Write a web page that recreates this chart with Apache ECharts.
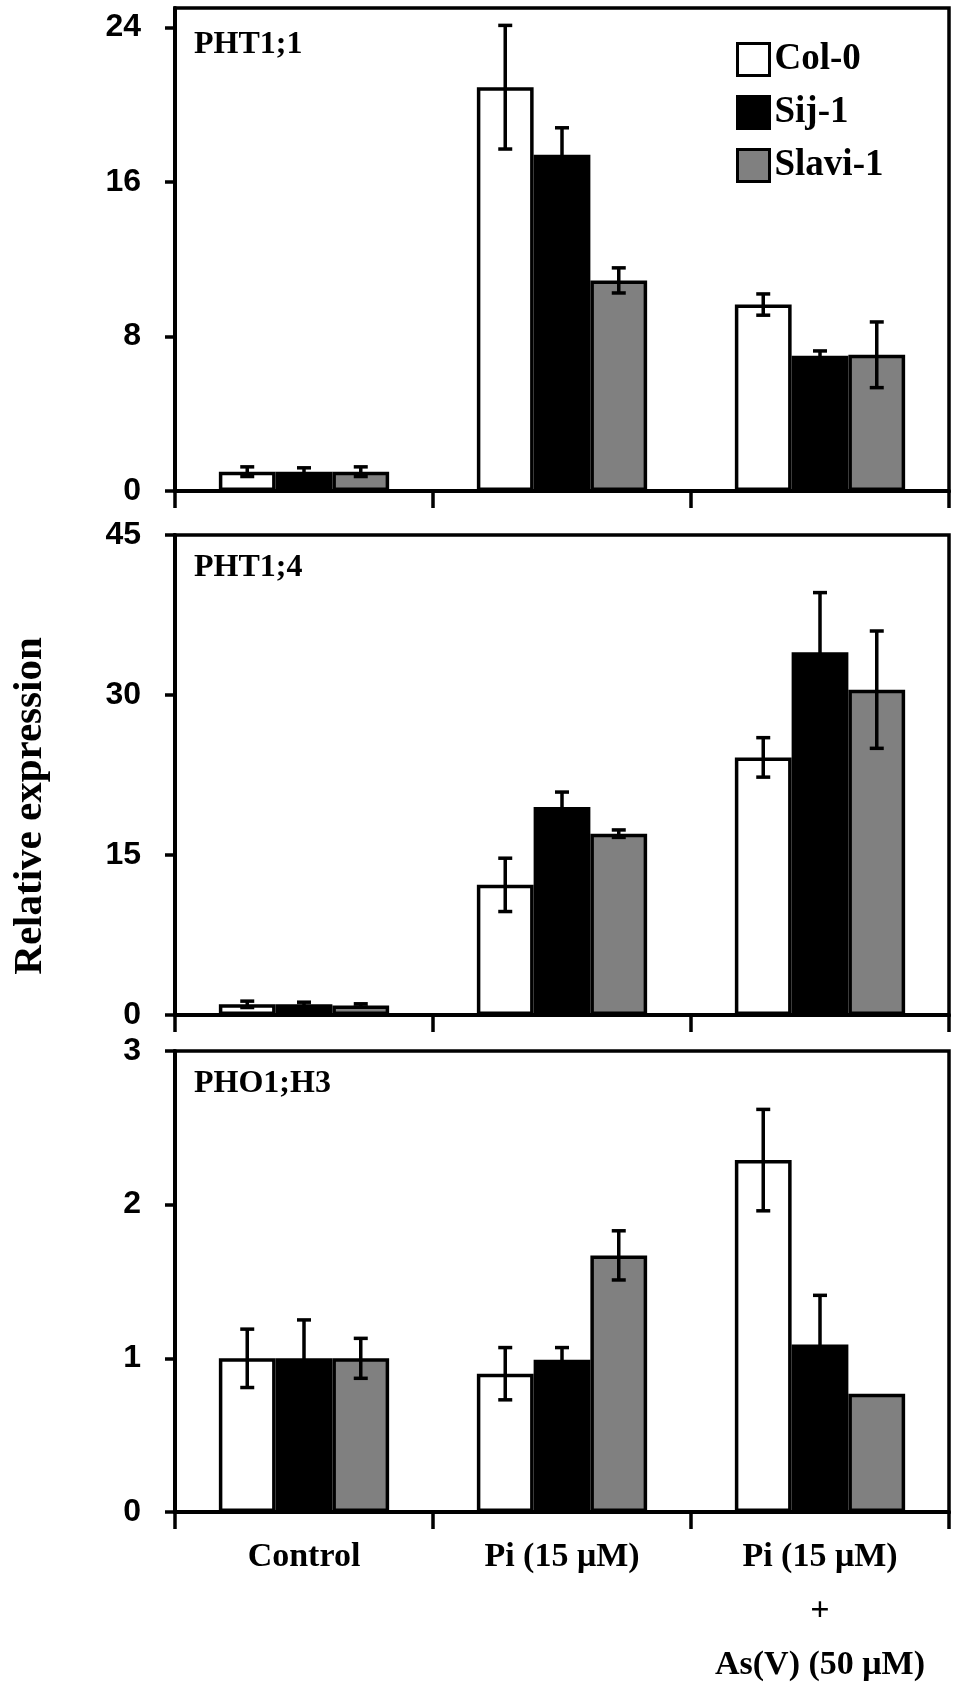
<!DOCTYPE html>
<html lang="en">
<head>
    <meta charset="UTF-8">
    <title>Relative expression</title>
    <script src="https://cdn.jsdelivr.net/npm/echarts@6/dist/echarts.min.js"></script>
    <style>
        html, body { margin: 0; padding: 0; background: #fff; }
        #chart { width: 960px; height: 1692px; }
    </style>
</head>
<body>
<div id="chart"></div>

<script>
    const categories = ['Control', 'Pi (15 μM)', 'Pi (15 μM)\n+\nAs(V) (50 μM)'];
    const genotypes = ['Col-0', 'Sij-1', 'Slavi-1'];
    const colors = ['#ffffff', '#000000', '#808080'];
    const panelNames = ['PHT1;1', 'PHT1;4', 'PHO1;H3'];

    // rows: Col-0, Sij-1, Slavi-1 ; columns: categories
    const pht11Means = [
        [1.0, 20.9, 9.65],
        [1.0, 17.4, 7.0],
        [1.0, 10.9, 7.05]
    ];
    const pht11Errors = [
        [0.25, 3.2, 0.55],
        [0.2, 1.4, 0.25],
        [0.25, 0.65, 1.7]
    ];
    const pht14Means = [
        [1.0, 12.2, 24.15],
        [1.0, 19.5, 34.0],
        [0.9, 17.0, 30.5]
    ];
    const pht14Errors = [
        [0.3, 2.5, 1.85],
        [0.2, 1.4, 5.6],
        [0.15, 0.35, 5.5]
    ];
    const pho1h3Means = [
        [1.0, 0.9, 2.29],
        [1.0, 0.99, 1.09],
        [1.0, 1.67, 0.77]
    ];
    const pho1h3Errors = [
        [0.19, 0.17, 0.33],
        [0.25, 0.08, 0.32],
        [0.13, 0.16, 0]
    ];

    const pht11Ticks = [0, 8, 16, 24];
    const pht14Ticks = [0, 15, 30, 45];
    const pho1h3Ticks = [0, 1, 2, 3];
    const axisMax = [25, 45, 3];

    const means = [pht11Means, pht14Means, pho1h3Means];
    const errors = [pht11Errors, pht14Errors, pho1h3Errors];
    const ticks = [pht11Ticks, pht14Ticks, pho1h3Ticks];

    const SERIF = '"Liberation Serif", "Times New Roman", serif';
    const SANS = '"Liberation Sans", Arial, sans-serif';
    const BAR_FRAC = 0.22;

    const grids = [
        {left: 175, right: 11, top: 8, height: 483},
        {left: 175, right: 11, top: 535, height: 480},
        {left: 175, right: 11, top: 1051, height: 509}
    ];

    function errorBar(params, api) {
        const c = api.value(0), m = api.value(1), e = api.value(2), g = api.value(3);
        if (!e) return;
        const band = api.size([1, 0])[0];
        const x = api.coord([c, m])[0] + (g - 1) * band * BAR_FRAC;
        const top = api.coord([c, m + e])[1];
        const bot = api.coord([c, m - e])[1];
        const cap = 7;
        const st = {stroke: '#000', lineWidth: 3.5};
        return {
            type: 'group',
            children: [
                {type: 'line', shape: {x1: x, y1: top, x2: x, y2: bot}, style: st},
                {type: 'line', shape: {x1: x - cap, y1: top, x2: x + cap, y2: top}, style: st},
                {type: 'line', shape: {x1: x - cap, y1: bot, x2: x + cap, y2: bot}, style: st}
            ]
        };
    }

    const series = [];
    means.forEach(function (panel, p) {
        panel.forEach(function (vals, g) {
            series.push({
                name: genotypes[g],
                type: 'bar',
                xAxisIndex: p,
                yAxisIndex: p,
                data: vals,
                barWidth: (BAR_FRAC * 100) + '%',
                barGap: '0%',
                itemStyle: {color: colors[g], borderColor: '#000', borderWidth: 3.5},
                emphasis: {disabled: true}
            });
        });
        const eb = [];
        panel.forEach(function (vals, g) {
            vals.forEach(function (v, c) {
                eb.push([c, v, errors[p][g][c], g]);
            });
        });
        series.push({
            type: 'custom',
            xAxisIndex: p,
            yAxisIndex: p,
            renderItem: errorBar,
            encode: {x: 0, y: 1},
            data: eb,
            z: 10,
            silent: true
        });
    });

    const chart = echarts.init(document.getElementById('chart'));
    chart.setOption({
        animation: false,
        backgroundColor: '#fff',
        grid: grids.map(function (g) {
            return Object.assign({show: true, borderColor: '#000', borderWidth: 3.5, backgroundColor: 'transparent'}, g);
        }),
        title: panelNames.map(function (t, i) {
            return {
                text: t,
                left: 194,
                top: grids[i].top + (i === 0 ? 21 : 17),
                padding: 0,
                textStyle: {fontFamily: SERIF, fontWeight: 'bold', fontSize: 32, color: '#000'}
            };
        }),
        legend: {
            data: genotypes,
            orient: 'vertical',
            left: 736,
            top: 41,
            padding: 0,
            itemWidth: 32,
            itemHeight: 32,
            itemGap: 16,
            icon: 'rect',
            selectedMode: false,
            itemStyle: {borderColor: '#000', borderWidth: 3},
            textStyle: {fontFamily: SERIF, fontWeight: 'bold', fontSize: 37, lineHeight: 32, color: '#000'}
        },
        xAxis: grids.map(function (g, i) {
            return {
                type: 'category',
                gridIndex: i,
                data: categories,
                boundaryGap: true,
                axisLine: {lineStyle: {color: '#000', width: 4}},
                axisTick: {show: true, interval: 0, length: 17, lineStyle: {color: '#000', width: 3.5}},
                axisLabel: {
                    show: i === 2,
                    interval: 0,
                    margin: 18,
                    lineHeight: 54,
                    fontFamily: SERIF,
                    fontWeight: 'bold',
                    fontSize: 34,
                    color: '#000'
                },
                splitLine: {show: false}
            };
        }),
        yAxis: grids.map(function (g, i) {
            return {
                type: 'value',
                gridIndex: i,
                min: 0,
                max: axisMax[i],
                axisLine: {show: true, lineStyle: {color: '#000', width: 4}},
                axisTick: {show: true, length: 10, customValues: ticks[i], lineStyle: {color: '#000', width: 3.5}},
                axisLabel: {
                    customValues: ticks[i],
                    margin: 34,
                    fontFamily: SANS,
                    fontWeight: 'bold',
                    fontSize: 32,
                    color: '#000'
                },
                splitLine: {show: false}
            };
        }),
        graphic: [{
            type: 'text',
            x: 30,
            y: 806,
            rotation: Math.PI / 2,
            style: {
                text: 'Relative expression',
                align: 'center',
                verticalAlign: 'middle',
                font: 'bold 41px ' + SERIF,
                fill: '#000'
            }
        }],
        series: series
    });
</script>
</body>
</html>
